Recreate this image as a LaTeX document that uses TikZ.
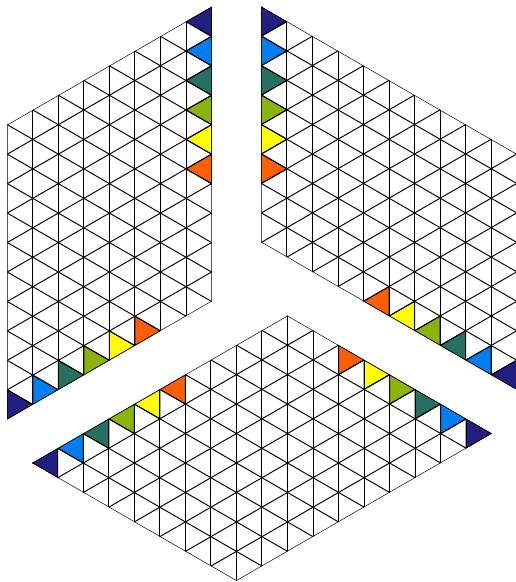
\documentclass[tikz,border=0pt]{standalone}
\definecolor{cA}{HTML}{231F80}
\definecolor{cB}{HTML}{0080F0}
\definecolor{cC}{HTML}{257060}
\definecolor{cD}{HTML}{8CB30A}
\definecolor{cE}{HTML}{FFFF00}
\definecolor{cF}{HTML}{FF5F00}
\tikzset{
  gridline/.style={draw=black,line width=0.95pt},
  tricell/.style={draw=black,line width=0.95pt,line join=round},
}
\newcommand{\dxx}{25.53}
\newcommand{\dyy}{14.73}
% lattice through origin #1,#2 (clip must be set beforehand)
\newcommand{\lattice}[2]{%
  \foreach \t in {-24,...,24}{%
    \draw[gridline] ({#1-30*\dxx},{#2+\t*2*\dyy+30*\dyy}) -- ({#1+30*\dxx},{#2+\t*2*\dyy-30*\dyy});
    \draw[gridline] ({#1-30*\dxx},{#2+\t*2*\dyy-30*\dyy}) -- ({#1+30*\dxx},{#2+\t*2*\dyy+30*\dyy});
    \draw[gridline] ({#1+\t*\dxx},{#2-800}) -- ({#1+\t*\dxx},{#2+800});
  }%
}
\begin{document}
\begin{tikzpicture}[x=1pt,y=-1pt]
\useasboundingbox (0,0) rectangle (516,582);
\clip (0,0) rectangle (516,582);
% left panel
\begin{scope}
  \clip (7.3,124.7) -- ++({8*\dxx},{-8*\dyy}) -- ++(0,{20*\dyy}) -- ++({-8*\dxx},{8*\dyy}) -- cycle;
  \foreach \k/\c in {0/cA,1/cB,2/cC,3/cD,4/cE,5/cF}{
    \path[tricell,fill=\c] ({7.3+8*\dxx},{124.7-8*\dyy+\k*2*\dyy}) -- ++(0,{2*\dyy}) -- ++({-\dxx},{-\dyy}) -- cycle;
    \path[tricell,fill=\c] ({7.3+\k*\dxx},{124.7+20*\dyy-\k*\dyy}) -- ++(0,{-2*\dyy}) -- ++({\dxx},{\dyy}) -- cycle;
  }
  \lattice{7.3}{124.7}
\end{scope}
% right panel
\begin{scope}
  \clip (261.4,6.7) -- ++({10*\dxx},{10*\dyy}) -- ++(0,{16*\dyy}) -- ++({-10*\dxx},{-10*\dyy}) -- cycle;
  \foreach \k/\c in {0/cA,1/cB,2/cC,3/cD,4/cE,5/cF}{
    \path[tricell,fill=\c] (261.4,{6.7+\k*2*\dyy}) -- ++(0,{2*\dyy}) -- ++({\dxx},{-\dyy}) -- cycle;
    \path[tricell,fill=\c] ({261.4+(10-\k)*\dxx},{6.7+(26-\k)*\dyy}) -- ++(0,{-2*\dyy}) -- ++({-\dxx},{\dyy}) -- cycle;
  }
  \lattice{261.4}{6.7}
\end{scope}
% bottom panel
\begin{scope}
  \clip (32.2,463) -- ++({10*\dxx},{-10*\dyy}) -- ++({8*\dxx},{8*\dyy}) -- ++({-10*\dxx},{10*\dyy}) -- cycle;
  \foreach \k/\c in {0/cA,1/cB,2/cC,3/cD,4/cE,5/cF}{
    \path[tricell,fill=\c] ({32.2+\k*\dxx},{463-\k*\dyy}) -- ++({\dxx},{-\dyy}) -- ++(0,{2*\dyy}) -- cycle;
    \path[tricell,fill=\c] ({32.2+(18-\k)*\dxx},{463-(2+\k)*\dyy}) -- ++({-\dxx},{-\dyy}) -- ++(0,{2*\dyy}) -- cycle;
  }
  \lattice{32.2}{463}
\end{scope}
\end{tikzpicture}
\end{document}
